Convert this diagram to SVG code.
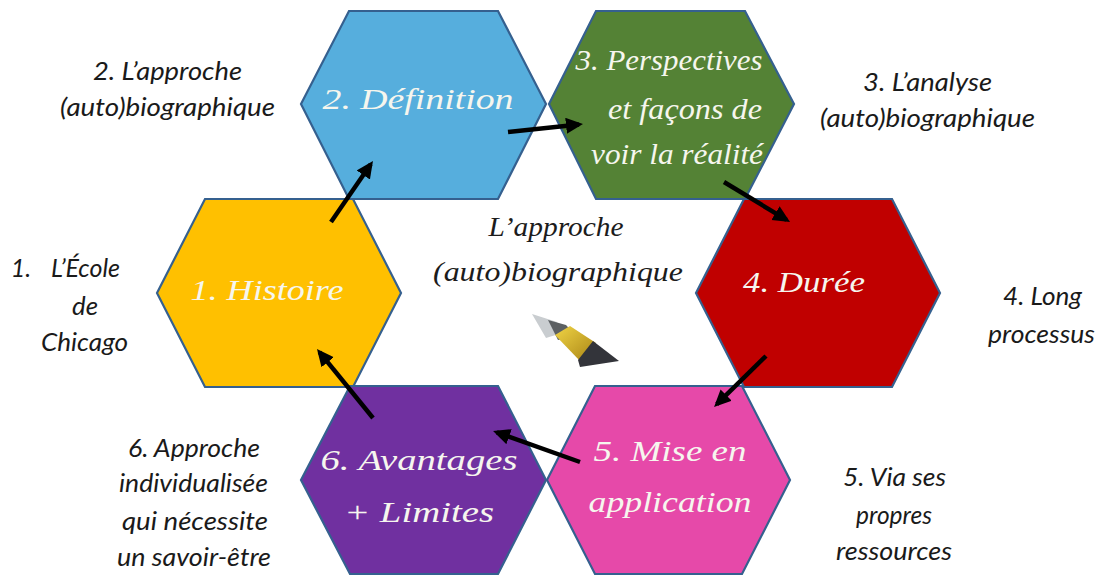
<svg xmlns="http://www.w3.org/2000/svg" width="1101" height="576" viewBox="0 0 1101 576">
<style>
.hex{stroke:#35608f;stroke-width:2.2;stroke-linejoin:miter}
.ht{font-family:"Liberation Serif",serif;font-style:italic;font-size:30px;fill:#f6f6ee;text-anchor:middle}
.ct{font-family:"Liberation Serif",serif;font-style:italic;font-size:27px;fill:#1c1c1c;text-anchor:middle}
.st{font-family:"Lato","Liberation Sans",sans-serif;font-style:italic;font-size:25px;fill:#1a1a1a;text-anchor:middle}
.arr{stroke:#000;stroke-width:4.5;fill:none;marker-end:url(#ah)}
</style>
<defs>
<marker id="ah" markerUnits="userSpaceOnUse" markerWidth="20" markerHeight="18" refX="13" refY="8" orient="auto">
<path d="M0,0L17,8L0,16Z" fill="#000"/>
</marker>
<linearGradient id="gold" x1="0" y1="0" x2="1" y2="1"><stop offset="0" stop-color="#f0d445"/><stop offset="1" stop-color="#a98415"/></linearGradient>
</defs>
<rect width="1101" height="576" fill="#fff"/>
<g id="node-1"><polygon class="hex" fill="#ffc000" points="157,293 205,199 353,199 401,293 353,387 205,387"/><text class="ht" x="267" y="300" textLength="153" lengthAdjust="spacingAndGlyphs">1. Histoire</text></g>
<g id="node-2"><polygon class="hex" fill="#56aedd" points="301,104 349,11 498,11 546,104 498,199 349,199"/><text class="ht" x="418" y="109" textLength="191" lengthAdjust="spacingAndGlyphs">2. Définition</text></g>
<g id="node-3"><polygon class="hex" fill="#548235" points="549,104 596,11 745,11 794,104 745,199 596,199"/>
<text class="ht" x="669" y="70" textLength="187" lengthAdjust="spacingAndGlyphs">3. Perspectives</text>
<text class="ht" x="685" y="119" textLength="154" lengthAdjust="spacingAndGlyphs">et façons de</text>
<text class="ht" x="677" y="164" textLength="172" lengthAdjust="spacingAndGlyphs">voir la réalité</text></g>
<g id="node-4"><polygon class="hex" fill="#c00000" points="696,293 744,199 892,199 940,293 892,387 744,387"/><text class="ht" x="804" y="292" textLength="122" lengthAdjust="spacingAndGlyphs">4. Durée</text></g>
<g id="node-5"><polygon class="hex" fill="#e649a9" points="547,480 595,386 742,386 790,480 742,574 595,574"/>
<text class="ht" x="670" y="461" textLength="153" lengthAdjust="spacingAndGlyphs">5. Mise en</text>
<text class="ht" x="670" y="512" textLength="163" lengthAdjust="spacingAndGlyphs">application</text></g>
<g id="node-6"><polygon class="hex" fill="#7030a0" points="301,480 350,386 498,386 546,480 498,574 350,574"/>
<text class="ht" x="419" y="470" textLength="197" lengthAdjust="spacingAndGlyphs">6. Avantages</text>
<text class="ht" x="419" y="522" textLength="150" lengthAdjust="spacingAndGlyphs">+ Limites</text></g>
<g id="connectors">
<line class="arr" x1="331" y1="222" x2="370.7" y2="164.3"/>
<line class="arr" x1="508" y1="132" x2="579" y2="124.4"/>
<line class="arr" x1="724" y1="182" x2="786.6" y2="219.9"/>
<line class="arr" x1="766" y1="356" x2="716.9" y2="404.2"/>
<line class="arr" x1="580" y1="462" x2="496.8" y2="432.3"/>
<line class="arr" x1="373" y1="418" x2="319.5" y2="352.1"/>
</g>
<g id="center">
<text class="ct" x="556" y="236" textLength="135" lengthAdjust="spacingAndGlyphs">L’approche</text>
<text class="ct" x="558" y="281" textLength="250" lengthAdjust="spacingAndGlyphs">(auto)biographique</text>
</g>
<g id="pen">
<polygon points="532,314 557,322 562,333 546,338" fill="#c9cdd0"/>
<polygon points="548,320 566,325 576,336 558,340" fill="#5c6063"/>
<polygon points="555,335 570,326 596,343 580,361" fill="url(#gold)"/>
<polygon points="593,341 619,361 580,367 578,360" fill="#33343a"/>
</g>
<g id="labels">
<text class="st" x="167.500" y="80" textLength="149" lengthAdjust="spacingAndGlyphs">2. L’approche</text>
<text class="st" x="167.500" y="116" textLength="215" lengthAdjust="spacingAndGlyphs">(auto)biographique</text>
<text class="st" x="927.500" y="91" textLength="129" lengthAdjust="spacingAndGlyphs">3. L’analyse</text>
<text class="st" x="927.500" y="127" textLength="215" lengthAdjust="spacingAndGlyphs">(auto)biographique</text>
<text class="st" y="277"><tspan x="21">1.</tspan><tspan x="85.500">L’École</tspan></text>
<text class="st" x="85" y="315" textLength="26" lengthAdjust="spacingAndGlyphs">de</text>
<text class="st" x="84.500" y="351" textLength="87" lengthAdjust="spacingAndGlyphs">Chicago</text>
<text class="st" x="1042.500" y="305" textLength="79" lengthAdjust="spacingAndGlyphs">4. Long</text>
<text class="st" x="1041.500" y="343" textLength="107" lengthAdjust="spacingAndGlyphs">processus</text>
<text class="st" x="894.500" y="486" textLength="103" lengthAdjust="spacingAndGlyphs">5. Via ses</text>
<text class="st" x="894" y="524" textLength="76" lengthAdjust="spacingAndGlyphs">propres</text>
<text class="st" x="894" y="560" textLength="116" lengthAdjust="spacingAndGlyphs">ressources</text>
<text class="st" x="194" y="457" textLength="132" lengthAdjust="spacingAndGlyphs">6. Approche</text>
<text class="st" x="193.500" y="492" textLength="149" lengthAdjust="spacingAndGlyphs">individualisée</text>
<text class="st" x="195" y="530" textLength="146" lengthAdjust="spacingAndGlyphs">qui nécessite</text>
<text class="st" x="194" y="566" textLength="154" lengthAdjust="spacingAndGlyphs">un savoir-être</text>
</g>
</svg>
